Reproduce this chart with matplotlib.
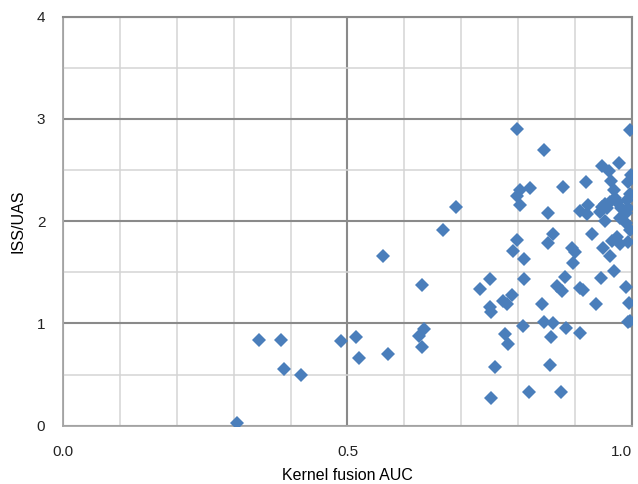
import matplotlib.pyplot as plt
from matplotlib.ticker import MultipleLocator

# Kernel fusion AUC vs ISS/UAS
auc = [0.305, 0.344, 0.383, 0.388, 0.418, 0.489, 0.515, 0.520, 0.563, 0.571,
       0.626, 0.634, 0.632, 0.631, 0.668, 0.691, 0.733, 0.751, 0.751, 0.752,
       0.752, 0.759, 0.774, 0.781, 0.777, 0.783, 0.789, 0.791, 0.798, 0.798,
       0.798, 0.804, 0.804, 0.808, 0.811, 0.811, 0.820, 0.821, 0.842, 0.845,
       0.845, 0.853, 0.853, 0.856, 0.859, 0.861, 0.862, 0.868, 0.875, 0.877,
       0.880, 0.883, 0.885, 0.895, 0.900, 0.897, 0.909, 0.915, 0.910, 0.909,
       0.921, 0.924, 0.920, 0.930, 0.937, 0.946, 0.944, 0.948, 0.948, 0.950,
       0.953, 0.954, 0.961, 0.962, 0.962, 0.964, 0.966, 0.969, 0.969, 0.971,
       0.974, 0.977, 0.980, 0.980, 0.990, 0.990, 0.991, 0.994, 0.994, 0.990,
       0.993, 0.996, 0.993, 0.998, 0.997, 0.997, 0.999, 0.998, 0.982, 0.974,
       0.956]
iss_uas = [0.03, 0.84, 0.84, 0.55, 0.50, 0.83, 0.87, 0.66, 1.66, 0.70,
           0.88, 0.95, 0.77, 1.38, 1.91, 2.14, 1.34, 1.43, 1.16, 1.115,
           0.27, 0.57, 1.22, 1.19, 0.90, 0.80, 1.28, 1.71, 1.82, 2.90,
           2.25, 2.31, 2.16, 0.975, 1.63, 1.43, 0.33, 2.32, 1.19, 1.01,
           2.70, 2.08, 1.79, 0.59, 0.865, 1.00, 1.875, 1.37, 0.33, 1.32,
           2.33, 1.45, 0.96, 1.735, 1.70, 1.59, 1.35, 1.33, 0.91, 2.10,
           2.07, 2.16, 2.38, 1.875, 1.19, 1.44, 2.09, 2.14, 2.54, 1.735,
           2.00, 2.17, 2.49, 2.19, 1.66, 2.39, 1.81, 1.51, 2.31, 2.23,
           1.85, 2.57, 1.78, 2.03, 1.98, 2.08, 2.21, 2.13, 2.38, 1.36,
           1.80, 1.20, 1.01, 1.02, 1.91, 2.27, 2.45, 2.89, 2.13, 2.19,
           2.13]

plt.rcParams['font.family'] = ['Liberation Sans', 'DejaVu Sans']

fig = plt.figure(figsize=(6.38, 4.84), dpi=100)
ax = fig.add_axes([0.0993, 0.1204, 0.8907, 0.8451])

ax.plot(auc, iss_uas, linestyle='none', marker='D', markersize=7.5,
        color='#4a7ebb', markeredgewidth=0, zorder=3)

ax.set_xlim(0, 1)
ax.set_ylim(0, 4)
ax.xaxis.set_major_locator(MultipleLocator(0.5))
ax.xaxis.set_minor_locator(MultipleLocator(0.1))
ax.yaxis.set_major_locator(MultipleLocator(1))
ax.yaxis.set_minor_locator(MultipleLocator(0.5))
ax.xaxis.set_major_formatter(lambda v, p: f"{v:.1f}")
ax.yaxis.set_major_formatter(lambda v, p: f"{v:.0f}")

ax.grid(which='minor', color='#d4d4d4', linewidth=1.1, zorder=0)
ax.grid(which='major', color='#8a8a8a', linewidth=1.5, zorder=1)
ax.set_axisbelow(True)
ax.tick_params(which='both', length=0, labelsize=11, colors='#222222')
ax.tick_params(axis='x', pad=14)
ax.tick_params(axis='y', pad=13)

for side in ['top', 'right']:
    ax.spines[side].set_color('#8a8a8a')
    ax.spines[side].set_linewidth(1.5)
for side in ['left', 'bottom']:
    ax.spines[side].set_color('#a6a6a6')
    ax.spines[side].set_linewidth(1.3)

ax.set_xlabel("Kernel fusion AUC", fontsize=11.5, labelpad=6)
ax.set_ylabel("ISS/UAS", fontsize=11.5, labelpad=8)

# keep the last x tick label ("1.0") inside the figure edge
fig.canvas.draw()
ax.xaxis.get_major_ticks()[-1].label1.set_horizontalalignment('right')
for t in ax.xaxis.get_major_ticks():
    if t.get_loc() > 0.99:
        t.label1.set_horizontalalignment('right')

fig.savefig("out.png", dpi=100)
